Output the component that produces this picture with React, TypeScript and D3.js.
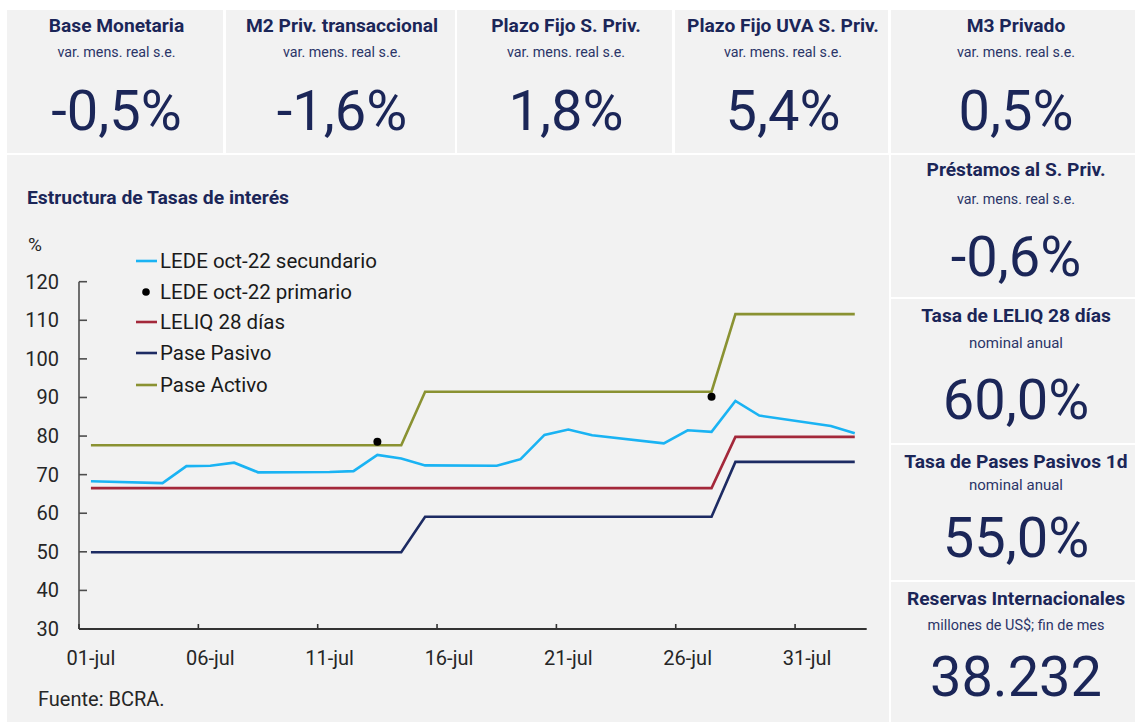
import React from "react";
import * as d3 from "d3";

// ---- Data ----
// business days (day of July; 32 = 01-aug, 33 = 02-aug)
const days = [1, 4, 5, 6, 7, 8, 11, 12, 13, 14, 15, 18, 19, 20, 21, 22, 25, 26, 27, 28, 29, 32, 33];
const ledeSecundario = [68.3, 67.8, 72.2, 72.3, 73.1, 70.6, 70.7, 70.9, 75.1, 74.2, 72.4, 72.3, 74.0, 80.3, 81.7, 80.2, 78.1, 81.5, 81.1, 89.1, 85.3, 82.6, 80.7];
const leliq28 = [66.5, 66.5, 66.5, 66.5, 66.5, 66.5, 66.5, 66.5, 66.5, 66.5, 66.5, 66.5, 66.5, 66.5, 66.5, 66.5, 66.5, 66.5, 66.5, 79.8, 79.8, 79.8, 79.8];
const pasePasivo = [49.9, 49.9, 49.9, 49.9, 49.9, 49.9, 49.9, 49.9, 49.9, 49.9, 59.1, 59.1, 59.1, 59.1, 59.1, 59.1, 59.1, 59.1, 59.1, 73.3, 73.3, 73.3, 73.3];
const paseActivo = [77.6, 77.6, 77.6, 77.6, 77.6, 77.6, 77.6, 77.6, 77.6, 77.6, 91.5, 91.5, 91.5, 91.5, 91.5, 91.5, 91.5, 91.5, 91.5, 111.6, 111.6, 111.6, 111.6];
const ledePrimarioDays = [13, 27];
const ledePrimario = [78.5, 90.2];

const xTickDays = [1, 6, 11, 16, 21, 26, 31];
const xTickLabels = ["01-jul", "06-jul", "11-jul", "16-jul", "21-jul", "26-jul", "31-jul"];
const yTicks = [30, 40, 50, 60, 70, 80, 90, 100, 110, 120];

const seriesNames = ["LEDE oct-22 secundario", "LEDE oct-22 primario", "LELIQ 28 días", "Pase Pasivo", "Pase Activo"];
const seriesColors = ["#1ab3f3", "#000000", "#a3283a", "#1d2b63", "#8a9232"];

// KPI tiles
const topTitles = ["Base Monetaria", "M2 Priv. transaccional", "Plazo Fijo S. Priv.", "Plazo Fijo UVA S. Priv.", "M3 Privado"];
const topSubtitles = ["var. mens. real s.e.", "var. mens. real s.e.", "var. mens. real s.e.", "var. mens. real s.e.", "var. mens. real s.e."];
const topValues = ["-0,5%", "-1,6%", "1,8%", "5,4%", "0,5%"];
const sideTitles = ["Préstamos al S. Priv.", "Tasa de LELIQ 28 días", "Tasa de Pases Pasivos 1d", "Reservas Internacionales"];
const sideSubtitles = ["var. mens. real s.e.", "nominal anual", "nominal anual", "millones de US$; fin de mes"];
const sideValues = ["-0,6%", "60,0%", "55,0%", "38.232"];

// ---- Layout ----
const W = 1135;
const H = 722;
const BG = "#f2f2f2";
const NAVY = "#1b2658";
const FONT = "Roboto, 'Noto Sans', sans-serif";

const topTiles = [
  [7, 223],
  [226, 455],
  [457, 672],
  [675, 888],
  [891, 1135],
];
const sideTiles = [
  [155, 297],
  [299, 443],
  [445, 580],
  [582, 722],
];

const subWidths: Record<string, number> = {
  "var. mens. real s.e.": 118,
  "nominal anual": 94,
  "millones de US$; fin de mes": 177,
};

function Tile({ x0, x1, y0, y1, title, sub, value, cx, dy }) {
  const c = cx ?? (x0 + x1) / 2 + 1.5;
  return (
    <g>
      <rect x={x0} y={y0} width={x1 - x0} height={y1 - y0} fill={BG} />
      <text x={c} y={y0 + dy[0]} textAnchor="middle" dominantBaseline="central" fontFamily={FONT} fontWeight={700} fontSize={19.2} fill={NAVY}>
        {title}
      </text>
      <text
        x={c}
        y={y0 + dy[1]}
        textAnchor="middle"
        dominantBaseline="central"
        fontFamily={FONT}
        fontSize={14.5}
        fill="#2b3568"
        textLength={subWidths[sub]}
        lengthAdjust="spacingAndGlyphs"
      >
        {sub}
      </text>
      <text x={c} y={y0 + dy[2]} textAnchor="middle" dominantBaseline="central" fontFamily={FONT} fontWeight={400} fontSize={56} fill={NAVY}>
        {value}
      </text>
    </g>
  );
}

export default function App() {
  const x = d3.scaleLinear().domain([0.5, 33.5]).range([79, 866.7]);
  const y = d3.scaleLinear().domain([30, 120]).range([629, 281.7]);

  const mk = (vals: number[]) =>
    d3
      .line<number>()
      .x((_, i) => x(days[i]))
      .y((v) => y(v))(vals) as string;

  const lines = [
    { vals: pasePasivo, color: seriesColors[3] },
    { vals: leliq28, color: seriesColors[2] },
    { vals: paseActivo, color: seriesColors[4] },
    { vals: ledeSecundario, color: seriesColors[0] },
  ];

  const legendY = [261, 292, 322, 353, 385];
  const textCol = "#262626";

  return (
    <svg width={W} height={H} style={{ position: "absolute", left: 0, top: 0 }} xmlns="http://www.w3.org/2000/svg">
      <rect x={0} y={0} width={W} height={H} fill="#ffffff" />
      {topTiles.map((t, i) => (
        <Tile key={"t" + i} x0={t[0]} x1={t[1]} y0={10} y1={153} title={topTitles[i]} sub={topSubtitles[i]} value={topValues[i]} cx={i === 4 ? 1016 : undefined} dy={[15, 42, 101]} />
      ))}
      {sideTiles.map((t, i) => (
        <Tile key={"s" + i} x0={891} x1={1135} y0={t[0]} y1={t[1]} title={sideTitles[i]} sub={sideSubtitles[i]} value={sideValues[i]} cx={1016} dy={i === 0 ? [14, 44, 102] : i === 1 ? [16, 44, 101] : i === 2 ? [16, 40, 93] : [16, 43, 95]} />
      ))}

      {/* chart panel */}
      <rect x={7} y={155} width={882} height={567} fill={BG} />
      <text x={27} y={197} dominantBaseline="central" fontFamily={FONT} fontWeight={700} fontSize={18} fill={NAVY} textLength={262} lengthAdjust="spacingAndGlyphs">
        Estructura de Tasas de interés
      </text>
      <text x={28} y={244} dominantBaseline="central" fontFamily={FONT} fontSize={19} fill={textCol}>
        %
      </text>

      {/* y axis */}
      <line x1={79} x2={79} y1={y(120)} y2={y(30)} stroke="#4d4d4d" strokeWidth={1.6} />
      {yTicks.map((t) => (
        <g key={"y" + t}>
          <line x1={79} x2={87} y1={y(t)} y2={y(t)} stroke="#4d4d4d" strokeWidth={1.6} />
          <text x={59} y={y(t)} textAnchor="end" dominantBaseline="central" fontFamily={FONT} fontSize={20} fill={textCol}>
            {t}
          </text>
        </g>
      ))}
      {/* x axis */}
      <line x1={79} x2={866.7} y1={y(30)} y2={y(30)} stroke="#333333" strokeWidth={1.8} />
      {xTickDays.map((d, i) => (
        <g key={"x" + d}>
          <line x1={x(d - 0.5)} x2={x(d - 0.5)} y1={y(30)} y2={y(30) - 5} stroke="#333333" strokeWidth={1.6} />
          <text x={x(d)} y={658} textAnchor="middle" dominantBaseline="central" fontFamily={FONT} fontSize={20} fill={textCol}>
            {xTickLabels[i]}
          </text>
        </g>
      ))}

      {/* lines */}
      {lines.map((l, i) => (
        <path key={"l" + i} d={mk(l.vals)} fill="none" stroke={l.color} strokeWidth={2.6} strokeLinejoin="miter" />
      ))}
      {ledePrimario.map((v, i) => (
        <circle key={"p" + i} cx={x(ledePrimarioDays[i])} cy={y(v)} r={4} fill="#000" />
      ))}

      {/* legend */}
      {seriesNames.map((n, i) => (
        <g key={"lg" + i}>
          {i === 1 ? (
            <circle cx={146} cy={legendY[i]} r={3.8} fill="#000" />
          ) : (
            <line x1={136} x2={157} y1={legendY[i]} y2={legendY[i]} stroke={seriesColors[i]} strokeWidth={2.6} />
          )}
          <text x={160} y={legendY[i]} dominantBaseline="central" fontFamily={FONT} fontSize={20.5} fill="#1a1a1a">
            {n}
          </text>
        </g>
      ))}

      <text x={38} y={699} dominantBaseline="central" fontFamily={FONT} fontSize={20} fill={textCol}>
        Fuente: BCRA.
      </text>
    </svg>
  );
}
